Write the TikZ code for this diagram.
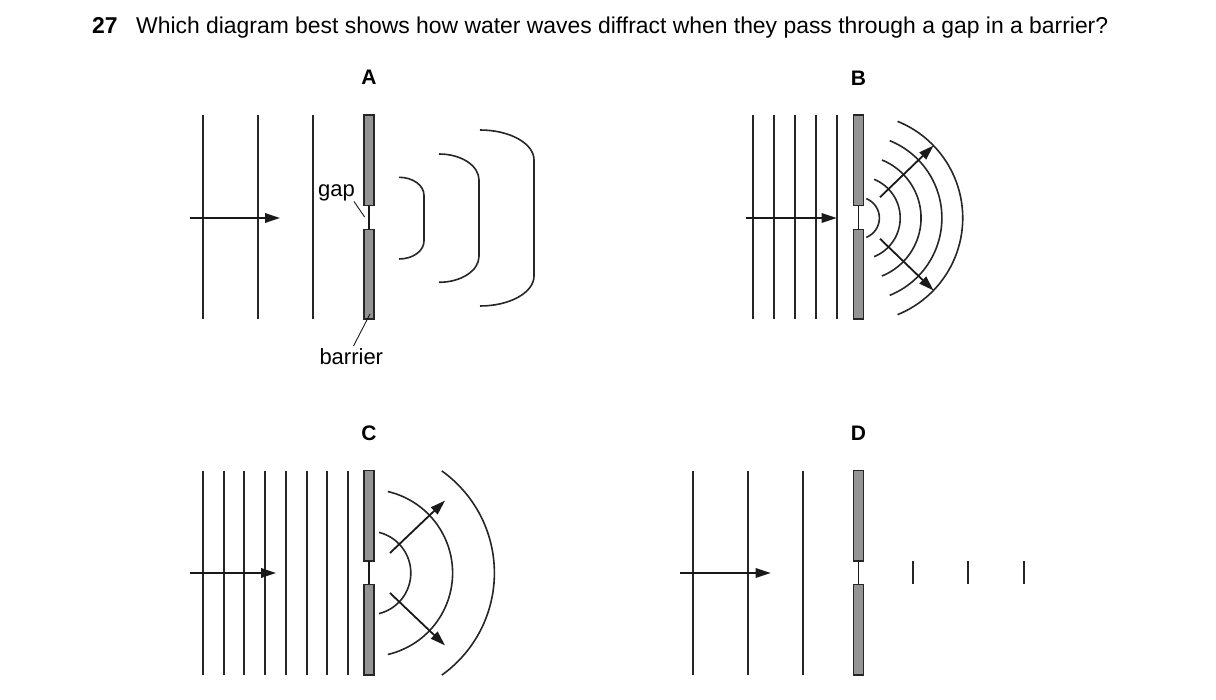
\documentclass[tikz,border=0pt]{standalone}
\usepackage{fontspec}
\setmainfont{Liberation Sans}
\usetikzlibrary{arrows.meta,calc}
\begin{document}
\begin{tikzpicture}[x=1pt,y=-1pt,
  wave/.style={line width=1.6pt, black!85},
  barrierbox/.style={fill=black!42, draw=black!85, line width=1.2pt},
  gapline/.style={line width=1.1pt, black!90},
  dirarrow/.style={line width=1.8pt, black!90, -{Triangle[length=15pt,width=9.5pt]}},
  leader/.style={line width=0.9pt, black!90},
  letter/.style={font=\fontsize{21}{25}\selectfont\bfseries, inner sep=0pt, anchor=base},
  lbl/.style={font=\fontsize{22}{26}\selectfont, inner sep=0pt, anchor=base west},
]
\useasboundingbox (0,0) rectangle (1216,700);

% title
\node[lbl, font=\fontsize{22.9}{27}\selectfont\bfseries] (num) at (92,34) {27};
\node[lbl, font=\fontsize{22.9}{27}\selectfont] (question) at (136,34) {Which diagram best shows how water waves diffract when they pass through a gap in a barrier?};

% ---------------- A ----------------
\node[letter] (labA) at (369,85) {A};
\foreach \xx in {203,258,313} \draw[wave] (\xx,115) -- (\xx,319);
\draw[barrierbox] (364,115) rectangle (374,205.7);
\draw[barrierbox] (364,229.3) rectangle (374,319);
\draw[gapline] (369,205.7) -- (369,229.3);
\coordinate (arrAs) at (190,218);
\coordinate (arrAe) at (280,218);
\draw[dirarrow] (arrAs) -- (arrAe);
\draw[wave] (399,177.3) .. controls (413,177.3) and (424,185.4) .. (424,195.3) -- (424,241) .. controls (424,250.9) and (413,259) .. (399,259);
\draw[wave] (439,154) .. controls (461.1,154) and (479,165.6) .. (479,180) -- (479,256.3) .. controls (479,270.7) and (461.1,282.3) .. (439,282.3);
\draw[wave] (480,130) .. controls (509.8,130) and (534,143.4) .. (534,160) -- (534,276) .. controls (534,292.6) and (509.8,306) .. (480,306);
\node[lbl] (gaplabel) at (318,196.5) {gap};
\coordinate (gapend) at (364.6,217);
\draw[leader] (354,201.5) -- (gapend);
\node[lbl] (barrierlabel) at (319.3,365) {barrier};
\coordinate (barrierend) at (370,314);
\draw[leader] (353.5,346) -- (barrierend);

% ---------------- B ----------------
\node[letter] (labB) at (858.5,85.5) {B};
\foreach \xx in {753,774,795,816,837} \draw[wave] (\xx,115) -- (\xx,319);
\draw[barrierbox] (853.5,115) rectangle (863.5,205.7);
\draw[barrierbox] (853.5,229.3) rectangle (863.5,319);
\draw[gapline] (858.5,205.7) -- (858.5,229.3);
\coordinate (cB) at (858.5,218);
\draw[dirarrow] (746,218) -- (836.7,218);
\foreach \k in {1,...,5}
  \draw[wave] plot[domain=-68:68,samples=60] ({858.5+20.85*\k*cos(\x)},{218+20.85*\k*sin(\x)});
\draw[dirarrow] ($(cB)+(-44:30)$) -- ($(cB)+(-44:104.3)$);
\draw[dirarrow] ($(cB)+(44:30)$) -- ($(cB)+(44:104.3)$);

% ---------------- C ----------------
\node[letter] (labC) at (369,441) {C};
\foreach \xx in {203,224,244,265,286,307,327,348} \draw[wave] (\xx,470.7) -- (\xx,675);
\draw[barrierbox] (364,470.7) rectangle (374,561);
\draw[barrierbox] (364,584.3) rectangle (374,675);
\draw[gapline] (369,561) -- (369,584.3);
\coordinate (cC) at (369,573);
\draw[dirarrow] (190,573) -- (276,573);
\draw[wave] plot[domain=-76:76,samples=60] ({369+41.8*cos(\x)},{573+41.8*sin(\x)});
\draw[wave] plot[domain=-77:77,samples=60] ({369+83.6*cos(\x)},{573+83.6*sin(\x)});
\draw[wave] plot[domain=-54.5:54.5,samples=60] ({369+125.4*cos(\x)},{573+125.4*sin(\x)});
\draw[dirarrow] ($(cC)+(-43.6:29)$) -- ($(cC)+(-43.6:105)$);
\draw[dirarrow] ($(cC)+(43.6:29)$) -- ($(cC)+(43.6:105)$);

% ---------------- D ----------------
\node[letter] (labD) at (858.5,441) {D};
\foreach \xx in {693,748,803} \draw[wave] (\xx,470.7) -- (\xx,675);
\draw[barrierbox] (853.5,470.7) rectangle (863.5,561);
\draw[barrierbox] (853.5,584.3) rectangle (863.5,675);
\draw[gapline] (858.5,561) -- (858.5,584.3);
\draw[dirarrow] (680,573) -- (770.7,573);
\foreach \xx in {913,968,1024} \draw[wave] (\xx,561) -- (\xx,584.3);
\end{tikzpicture}
\end{document}
